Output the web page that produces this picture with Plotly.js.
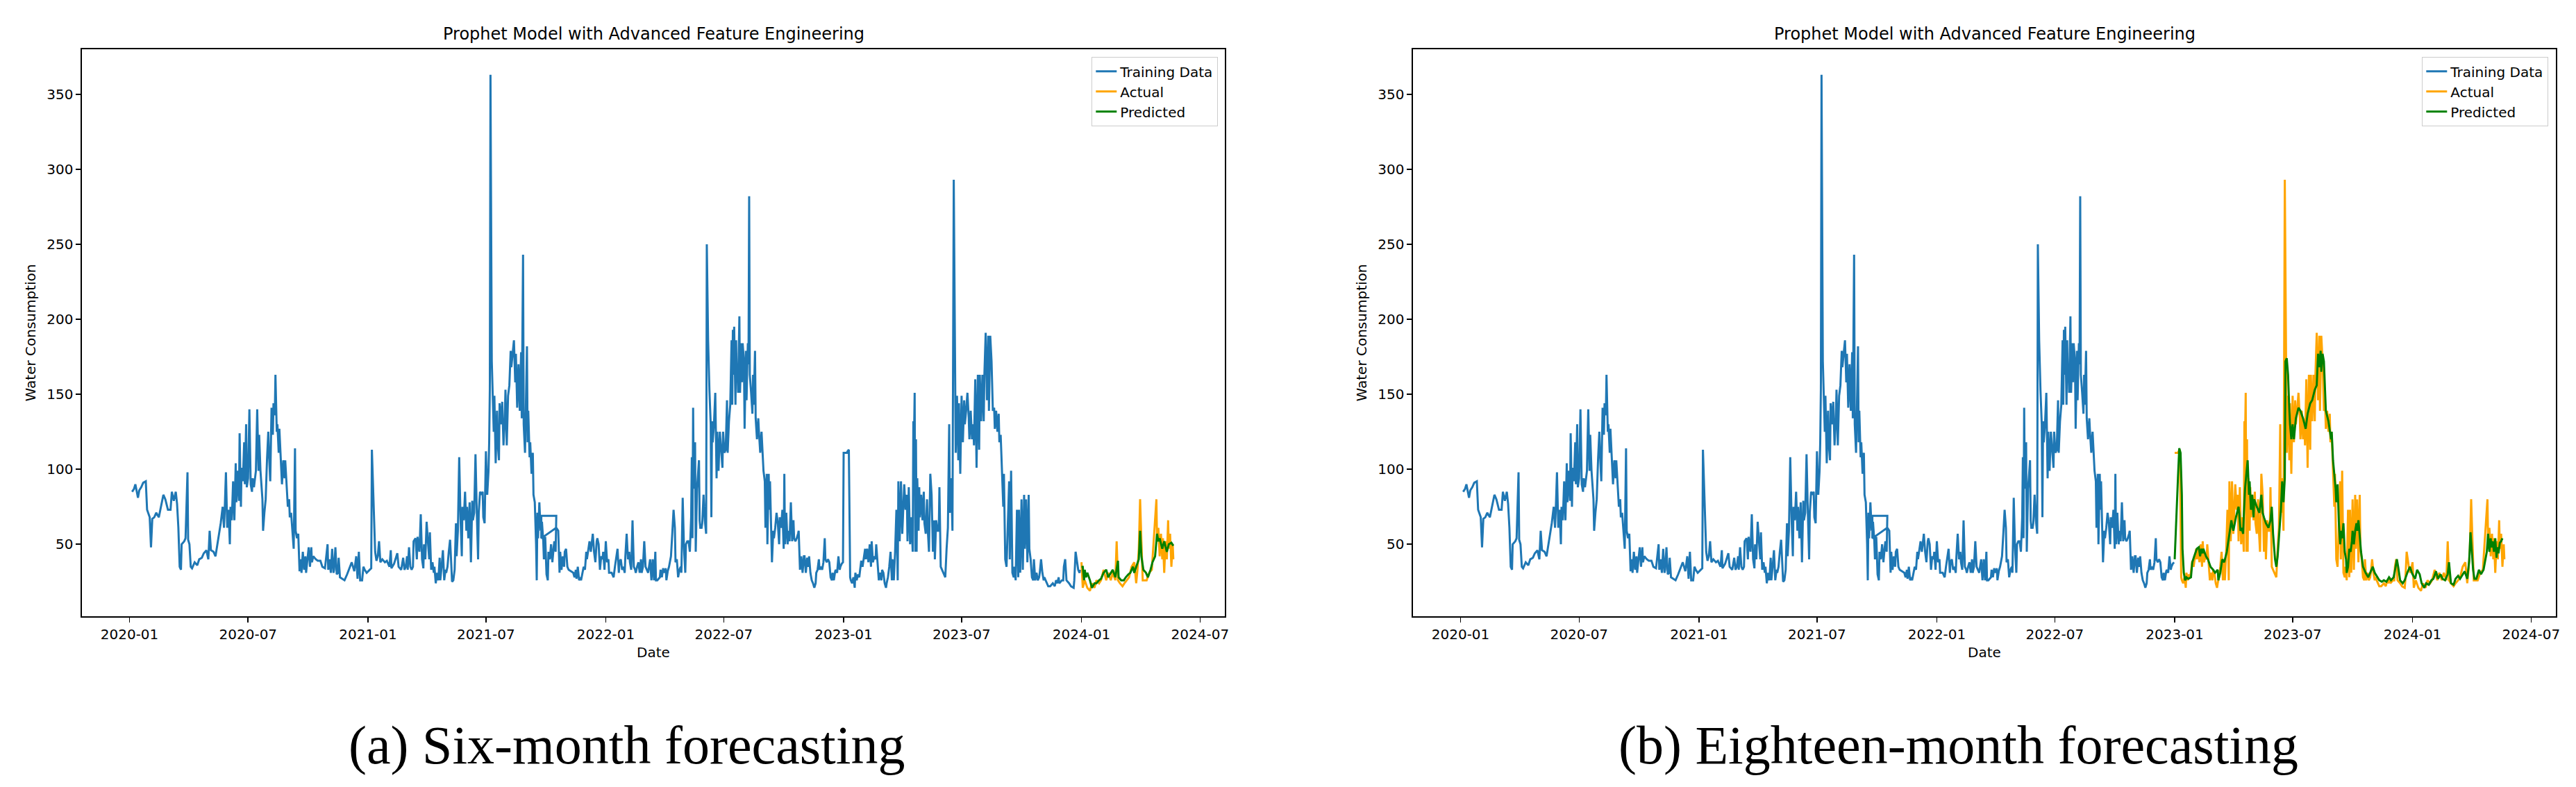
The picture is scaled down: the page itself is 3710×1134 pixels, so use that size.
<!DOCTYPE html>
<html>
<head>
<meta charset="utf-8">
<script src="https://cdn.plot.ly/plotly-3.0.1.min.js"></script>
<style>
  html, body { margin: 0; padding: 0; background: #fff; }
  #chart { width: 3710px; height: 1134px; }
</style>
</head>
<body>
<div id="chart"></div>
<script>
// observed water consumption, day = days since 2020-01-01
var obsDay = [
  4,7,9,13,15,18,21,25,27,29,31,33,35,38,41,45,48,52,55,59,63,65,68,71,73,75,77,79,80,84,86,89,90,92,94,96,100,104,107,111,
  114,118,121,123,125,129,132,136,138,140,143,145,146,148,150,152,154,155,157,159,161,163,164,166,168,169,171,172,174,176,
  177,179,180,182,184,186,188,189,191,194,196,198,199,201,204,205,207,209,211,213,214,216,218,220,221,223,224,226,227,229,
  230,232,234,236,238,239,241,243,245,246,248,250,252,254,255,257,259,261,263,264,266,268,270,271,273,275,277,279,280,282,
  286,289,293,296,300,304,305,307,309,311,313,314,316,318,320,321,323,327,330,334,338,341,345,348,350,352,354,357,359,361,
  364,368,371,372,375,
  377,379,381,383,385,388,392,395,399,401,402,406,410,411,413,417,420,422,424,426,427,429,431,433,435,436,439,441,442,445,
  447,449,451,452,454,456,458,460,461,463,465,467,468,470,472,474,476,477,479,481,483,485,486,488,490,492,494,495,497,499,
  501,502,504,506,508,510,511,513,515,517,518,520,522,524,526,527,529,531,533,535,536,538,540,542,543,545,547,549,551,552,
  553,554,556,558,559,560,561,562,564,565,567,568,570,572,574,576,577,579,581,583,585,586,588,590,592,593,595,597,599,601,
  602,604,605,607,608,610,611,612,614,615,617,619,620,622,624,625,626,627,629,631,633,635,636,638,640,642,643,645,647,649,
  651,652,654,655,632,632,655,658,660,661,663,665,667,668,670,672,674,677,681,683,685,686,688,690,692,693,695,697,699,701,
  702,704,706,708,710,711,713,715,717,718,720,722,724,726,727,729,731,733,735,736,740,743,745,747,749,751,752,754,756,758,
  760,761,763,765,767,768,770,772,774,776,777,779,781,783,785,786,788,790,792,
  796,799,801,803,805,807,808,810,814,815,817,819,821,823,824,826,828,830,831,833,835,837,838,840,842,844,846,847,849,851,
  853,854,856,858,860,862,863,864,865,866,868,869,870,871,874,875,876,878,879,881,883,885,886,888,890,892,893,894,895,897,
  899,900,901,902,904,906,908,910,911,913,915,917,918,920,922,924,925,926,927,928,930,931,932,933,934,936,937,939,940,941,
  943,944,946,947,949,950,951,952,954,956,957,958,960,961,963,965,966,968,970,972,973,975,976,978,979,981,982,983,985,986,
  988,989,991,993,995,997,998,1000,1002,1004,1005,1006,1008,1010,1012,1013,1015,1017,1019,1020,1022,1024,1026,1027,1029,
  1031,1033,1035,1036,1038,1040,1042,1043,1045,1047,1049,1051,1053,1054,1056,1058,1059,1061,1063,1065,1067,1068,1070,1072,
  1074,1076,1078,1079,1081,1083,1084,1086,1088,1090,1091,1093,1095,1096,1098,1101,1102,1104,1106,1107,1109,1111,1113,1114,
  1116,1118,1120,1122,1123,1125,1127,1129,1130,1132,1134,1136,1138,1139,1141,1143,1145,1146,1148,1150,1152,1154,1155,1157,
  1159,1161,1162,1164,1166,1168,1170,1171,1173,1175,1177,1179,1180,1182,1184,1186,1187,1189,1191,1193,1194,1196,1198,1200,
  1202,1203,1204,1205,1206,1207,1208,1209,1211,1212,1213,1215,1217,1219,1220,1222,1224,1225,1227,
  1229,1231,1233,1235,1236,1238,1240,1242,1243,1245,1247,1249,1250,1252,1254,1256,1258,1259,1261,1263,1265,1266,1267,1268,
  1270,1272,1273,1275,1277,1279,1281,1282,1284,1286,1288,1289,1291,1293,1295,1296,1298,1300,1302,1304,1305,1307,1309,1311,
  1312,1314,1316,1318,1319,1321,1323,1325,1327,1328,1330,1332,1334,1335,1337,1339,1341,1342,1344,1346,1348,1350,1351,1353,
  1355,1357,1358,1360,1362,1364,1365,1367,1369,1371,1373,1374,1376,1378,1380,1381,1383,1385,1387,1388,1390,1392,1394,1396,
  1397,1399,1401,1403,1404,1406,1408,1410,1413,1417,1420,1422,1424,1426,1427,1431,1433,1434,1436,1438,1442,1445,1449,1450,
  1452,1454,1456,1458,1459,
  1461,1463,1466,1470,1474,1477,1481,1484,1488,1491,1495,1499,1502,1506,1509,1513,1515,1517,1520,1524,1527,1531,1534,1538,
  1542,1545,1547,1549,1551,1553,1555,1558,1561,1565,1569,1570,1573,1576,1577,1579,1581,1583,1585,1586,1588,1590,1592,1594,
  1595,1597,1599,1601,1602
];
var obsValue = [
  85,87,90,81,86,88,91,92,73,70,68,48,67,68,71,68,75,83,80,73,73,85,79,85,77,61,35,33,50,52,54,98,53,50,35,34,38,36,40,41,
  44,46,40,59,46,45,42,52,57,64,75,61,71,98,61,73,50,75,66,92,66,104,78,99,79,124,75,101,92,118,
  90,130,88,94,140,90,85,94,88,99,140,99,123,99,80,59,71,80,106,125,111,92,141,123,144,136,163,125,130,111,
  127,109,90,106,94,106,92,75,80,68,71,59,47,114,59,54,57,32,40,31,45,33,42,31,40,48,35,48,38,42,
  40,39,39,35,34,50,33,40,31,47,31,33,48,30,31,41,28,27,26,30,35,38,32,42,27,45,26,26,35,33,
  31,33,34,113,71,
  45,39,42,52,38,40,38,39,35,46,34,37,42,44,35,33,41,33,35,42,33,48,35,33,35,52,54,40,55,45,
  70,40,34,50,40,65,52,40,58,33,38,31,35,24,31,26,41,26,35,46,26,33,31,35,45,53,35,25,26,33,
  64,42,59,108,68,42,75,66,85,59,75,54,78,38,79,66,71,110,71,40,71,85,83,85,68,64,112,83,99,118,
  153,363,172,141,125,149,116,104,139,118,106,144,130,145,116,134,153,116,149,156,179,168,177,186,158,177,141,170,139,178,
  134,243,130,111,134,182,118,139,108,118,97,111,83,78,50,26,71,54,78,59,65,52,40,55,30,26,45,40,50,38,
  48,52,45,69,69,54,61,59,31,45,33,42,35,45,47,35,33,32,31,28,33,27,35,26,28,26,31,35,33,45,
  40,47,52,45,54,57,45,38,52,54,50,33,42,40,45,33,52,38,40,31,31,28,35,42,47,31,38,40,33,35,
  31,42,57,40,45,38,33,66,35,33,31,35,38,31,40,31,35,52,35,
  31,40,26,40,26,45,26,26,28,33,28,34,31,34,26,32,35,40,42,57,73,61,38,40,28,33,35,31,81,47,
  31,50,52,52,45,68,108,54,141,87,118,45,68,87,106,66,61,61,64,83,66,57,250,186,153,130,68,132,118,130,
  151,120,94,125,99,125,111,101,125,111,113,146,111,132,143,186,143,193,163,195,143,186,158,167,151,202,151,184,158,184,
  172,127,179,146,184,170,282,163,151,137,163,143,179,134,120,134,125,111,125,109,99,92,61,97,50,97,73,92,59,38,
  59,54,61,71,64,50,68,61,73,47,97,50,71,50,59,52,78,52,66,54,52,54,57,59,33,
  42,31,42,42,31,41,35,42,31,26,24,21,24,31,33,40,33,35,33,38,54,40,38,40,
  38,28,26,31,26,32,33,31,42,33,35,37,38,111,111,111,112,113,28,26,24,28,21,31,
  26,30,28,38,39,35,42,47,40,47,38,50,35,52,38,42,40,50,38,26,31,26,33,31,
  24,21,24,28,35,45,26,40,26,45,73,26,92,52,92,57,68,90,73,83,52,88,50,68,
  45,132,120,151,45,120,45,94,59,88,68,83,66,85,64,57,80,61,45,
  97,83,45,66,40,66,59,59,88,35,33,31,30,28,47,61,130,71,94,59,293,215,146,111,
  149,106,144,97,149,118,146,130,139,151,134,120,139,120,130,116,160,101,163,113,163,132,163,132,
  163,191,146,189,139,189,172,139,141,127,139,125,137,118,123,101,75,97,40,35,59,92,40,99,
  31,28,35,26,73,28,73,31,80,33,83,47,80,38,83,47,40,28,26,40,26,31,26,28,
  31,40,31,26,28,26,24,22,22,24,22,26,24,28,24,26,26,35,40,26,24,22,21,26,
  45,38,33,31,33,
  38,21,26,21,19,24,21,26,24,26,33,26,31,26,31,26,52,26,24,22,24,26,28,35,
  38,24,33,47,80,52,26,26,26,31,33,40,61,80,52,61,42,57,40,54,31,52,40,66,
  47,57,35,50,40
];

// Prophet predictions, six-month horizon
var pred6Day = [
  1461,1463,1465,1466,1468,1470,1474,1477,1481,1484,1488,1491,1495,1499,1502,1506,1509,1513,1517,1518,1522,1526,1529,1533,
  1536,1540,1542,1545,1549,1551,1553,1556,1560,1563,1567,1570,1574,1577,1579,1581,1585,1588,1592,1595,1599,1602
];
var pred6Value = [
  35,35,26,33,28,31,26,21,24,24,26,27,31,33,28,31,33,28,39,28,26,26,28,30,
  31,35,31,35,40,59,42,33,31,28,33,38,42,57,52,54,47,52,45,50,51,49
];

// Prophet predictions, eighteen-month horizon
var pred18Day = [
  1096,1098,1101,1103,1105,1107,1108,1110,1112,1114,1117,1121,1123,1126,1130,1133,1135,1137,1139,1140,1144,1147,1151,1155,
  1158,1162,1163,1166,1169,1172,1176,1179,1183,1185,1186,1190,1194,1195,1197,1199,1201,1202,1204,1206,1208,1210,1211,1213,
  1215,1217,1218,1222,1226,1229,1231,1233,1236,1240,1243,1245,1247,1250,1252,1254,1257,1259,1261,1263,1265,1266,1268,1270,
  1272,1273,1275,1277,1279,1281,1282,1286,1289,1293,1297,1300,1304,1307,1311,1314,1316,1318,1320,1321,1323,1325,1327,1328,
  1332,1336,1337,1339,1343,1344,1346,1348,1350,1352,1353,1355,1357,1359,1360,1362,1364,1366,1368,1369,1371,1373,1375,1376,
  1378,1380,1382,1385,1389,1393,1396,1400,1403,1407,1410,1414,1417,1421,1425,1428,1432,1435,1437,1439,1442,1446,1449,1453,
  1457,1460,
  1461,1465,1468,1472,1475,1479,1482,1486,1490,1493,1497,1500,1504,1507,1511,1515,1517,1520,1524,1527,1531,1534,1538,1541,
  1545,1548,1550,1552,1554,1556,1559,1563,1566,1570,1574,1575,1577,1579,1581,1582,1584,1586,1588,1590,1591,1593,1595,1597,
  1599
];
var pred18Value = [
  40,59,94,114,111,83,47,31,26,28,27,28,38,42,47,48,42,47,44,47,42,40,35,33,
  31,33,26,31,40,38,45,54,66,61,59,68,75,71,59,61,57,68,87,97,106,83,92,73,
  83,68,80,75,71,83,71,68,64,61,66,75,57,40,35,42,59,73,92,78,94,172,174,163,
  139,130,120,130,120,130,134,141,139,134,127,137,144,146,153,156,177,168,179,165,177,172,153,139,
  132,120,125,106,87,78,90,64,50,59,54,64,45,40,31,35,47,45,52,59,50,59,64,59,
  66,54,45,35,31,28,31,35,31,28,26,25,26,25,28,26,28,35,40,35,26,24,26,31,
  35,31,
  30,27,33,30,24,21,24,23,26,27,32,27,30,27,26,30,38,24,23,27,29,27,30,32,
  27,39,58,45,33,27,27,33,30,33,42,45,57,45,54,48,52,45,54,41,48,44,51,52,
  54
];

var forecastStart6 = '2024-01-01';
var forecastStart18 = '2023-01-01';
var xTickLabels = ['2020-01', '2020-07', '2021-01', '2021-07', '2022-01', '2022-07', '2023-01', '2023-07', '2024-01', '2024-07'];
var yTickVals = [50, 100, 150, 200, 250, 300, 350];
var chartTitle = 'Prophet Model with Advanced Feature Engineering';
var captions = ['(a) Six-month forecasting', '(b) Eighteen-month forecasting'];

var day0 = Date.UTC(2020, 0, 1);
function toDate(d) {
  return new Date(day0 + d * 86400000).toISOString().slice(0, 10);
}
var obsDate = obsDay.map(toDate);

function pick(before, cut) {
  var out = {x: [], y: []};
  for (var i = 0; i < obsDate.length; i++) {
    if ((obsDate[i] < cut) === before) {
      out.x.push(obsDate[i]);
      out.y.push(obsValue[i]);
    }
  }
  return out;
}

var blue = '#1f77b4', orange = 'orange', green = 'green';
var lw = 3;

function panel(cut, predDay, predValue, n) {
  var xa = n === 1 ? 'x' : 'x2', ya = n === 1 ? 'y' : 'y2';
  var lg = n === 1 ? 'legend' : 'legend2';
  var train = pick(true, cut), actual = pick(false, cut);
  return [
    {x: train.x, y: train.y, name: 'Training Data', type: 'scatter', mode: 'lines',
     line: {color: blue, width: lw}, xaxis: xa, yaxis: ya, legend: lg},
    {x: actual.x, y: actual.y, name: 'Actual', type: 'scatter', mode: 'lines',
     line: {color: orange, width: lw}, xaxis: xa, yaxis: ya, legend: lg},
    {x: predDay.map(toDate), y: predValue, name: 'Predicted', type: 'scatter', mode: 'lines',
     line: {color: green, width: lw}, xaxis: xa, yaxis: ya, legend: lg}
  ];
}

var data = panel(forecastStart6, pred6Day, pred6Value, 1)
  .concat(panel(forecastStart18, pred18Day, pred18Value, 2));

var font = 'DejaVu Sans';
var xTickVals = xTickLabels.map(function (t) { return t + '-01'; });

function xAxis(domain, yName) {
  return {
    type: 'date', domain: domain, anchor: yName, range: ['2019-10-20', '2024-08-08'],
    tickvals: xTickVals, ticktext: xTickLabels,
    showline: true, mirror: true, linecolor: '#000', linewidth: 1.6,
    ticks: 'outside', ticklen: 7, tickwidth: 1.6, tickcolor: '#000',
    showgrid: false, zeroline: false, automargin: false,
    tickfont: {family: font, size: 20, color: '#000'},
    title: {text: 'Date', font: {family: font, size: 20, color: '#000'}, standoff: 8}
  };
}
function yAxis(domain, xName) {
  return {
    domain: domain, anchor: xName, range: [2, 380], tickvals: yTickVals,
    showline: true, mirror: true, linecolor: '#000', linewidth: 1.6,
    ticks: 'outside', ticklen: 7, tickwidth: 1.6, tickcolor: '#000',
    showgrid: false, zeroline: false, automargin: false,
    tickfont: {family: font, size: 20, color: '#000'},
    title: {text: 'Water Consumption', font: {family: font, size: 20, color: '#000'}, standoff: 10}
  };
}

var W = 3710, H = 1134;
var yDom = [1 - 888 / H, 1 - 71 / H];
var xDom1 = [118 / W, 1764 / W], xDom2 = [2035 / W, 3681 / W];

function legendAt(xRight) {
  return {
    x: xRight, xanchor: 'right', y: 1 - 82 / H, yanchor: 'top',
    bgcolor: 'rgba(255,255,255,0.8)', bordercolor: '#cccccc', borderwidth: 1.3,
    font: {family: font, size: 20, color: '#000'}
  };
}

var layout = {
  width: W, height: H,
  margin: {l: 0, r: 0, t: 0, b: 0},
  paper_bgcolor: '#fff', plot_bgcolor: '#fff',
  showlegend: true,
  xaxis: xAxis(xDom1, 'y'), yaxis: yAxis(yDom, 'x'),
  xaxis2: xAxis(xDom2, 'y2'), yaxis2: yAxis(yDom, 'x2'),
  legend: legendAt(1754 / W),
  legend2: legendAt(3670 / W),
  annotations: [
    {text: chartTitle, xref: 'paper', yref: 'paper', x: (xDom1[0] + xDom1[1]) / 2, y: 1 - 49 / H,
     xanchor: 'center', yanchor: 'middle', showarrow: false, font: {family: font, size: 24, color: '#000'}},
    {text: chartTitle, xref: 'paper', yref: 'paper', x: (xDom2[0] + xDom2[1]) / 2, y: 1 - 49 / H,
     xanchor: 'center', yanchor: 'middle', showarrow: false, font: {family: font, size: 24, color: '#000'}},
    {text: captions[0], xref: 'paper', yref: 'paper', x: 902 / W, y: 1 - 1073 / H,
     xanchor: 'center', yanchor: 'middle', showarrow: false,
     font: {family: 'Liberation Serif', size: 78, color: '#000'}},
    {text: captions[1], xref: 'paper', yref: 'paper', x: 2820 / W, y: 1 - 1073 / H,
     xanchor: 'center', yanchor: 'middle', showarrow: false,
     font: {family: 'Liberation Serif', size: 78, color: '#000'}}
  ]
};

Plotly.newPlot('chart', data, layout, {displayModeBar: false, staticPlot: true});
</script>
</body>
</html>
